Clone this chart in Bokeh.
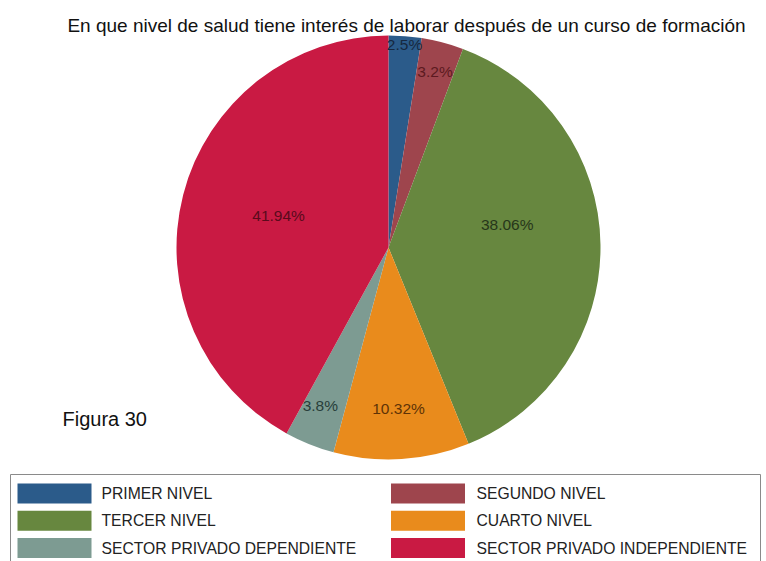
import numpy as np
from bokeh.plotting import figure
from bokeh.models import ColumnDataSource, Range1d
from bokeh.core.properties import value
from bokeh.embed import file_html
from bokeh.resources import INLINE

# ---- data ----
categories = ["PRIMER NIVEL", "SEGUNDO NIVEL", "TERCER NIVEL", "CUARTO NIVEL",
              "SECTOR PRIVADO DEPENDIENTE", "SECTOR PRIVADO INDEPENDIENTE"]
percent = [2.5, 3.2, 38.06, 10.32, 3.8, 41.94]
pct_labels = ["2.5%", "3.2%", "38.06%", "10.32%", "3.8%", "41.94%"]
title_text = "En que nivel de salud tiene interés de laborar después de un curso de formación"
note_text = "Figura 30"

# ---- styles ----
colors = ["#2b5b8a", "#9e454d", "#67873f", "#e98b1c", "#7d9b92", "#c91a43"]
label_colors = ["#16283f", "#5c1a20", "#26361a", "#5e3306", "#283e3a", "#5a0a1c"]
label_rfrac = [0.96, 0.86, 0.57, 0.76, 0.81, 0.54]
label_shift_deg = [0, 0, -10, 0, 1.5, 1.8]
FONT = value("Liberation Sans")

W, H = 766, 561
cx, cy, R = 388, 314, 212

p = figure(width=W, height=H, output_backend="svg", toolbar_location=None,
           x_range=Range1d(0, W), y_range=Range1d(0, H),
           min_border=0, min_border_left=0, min_border_right=0,
           min_border_top=0, min_border_bottom=0)
p.axis.visible = False
p.grid.visible = False
p.outline_line_color = None
p.background_fill_color = "white"

vals = np.array(percent, dtype=float)
frac = vals / vals.sum()
cum = np.concatenate([[0.0], np.cumsum(frac)])
start = np.pi / 2 - 2 * np.pi * cum[:-1]
end = np.pi / 2 - 2 * np.pi * cum[1:]

src = ColumnDataSource(dict(x=[cx] * 6, y=[cy] * 6, start=start, end=end,
                            color=colors, cat=categories))
p.wedge(x="x", y="y", radius=R, start_angle="start", end_angle="end",
        direction="clock", fill_color="color", line_color=None, source=src)

# percentage labels
mid_theta = 2 * np.pi * (cum[:-1] + cum[1:]) / 2 + np.radians(label_shift_deg)  # clockwise from top
lr = np.array(label_rfrac) * R
lx = cx + lr * np.sin(mid_theta)
ly = cy + lr * np.cos(mid_theta)
p.text(x=lx, y=ly, text=pct_labels, text_color=label_colors, text_font=FONT,
       text_font_size="15.5px", text_align="center", text_baseline="middle")

# title
p.text(x=[406], y=[536.5], text=[title_text], text_font=FONT, text_font_size="19px",
       text_color="#111111", text_align="center", text_baseline="middle")
# note
p.text(x=[62], y=[143], text=[note_text], text_font=FONT, text_font_size="20px",
       text_color="#111111", text_align="left", text_baseline="middle")

# legend (drawn in plot space, 2 columns, row-major)
p.quad(left=[10], right=[760], top=[87], bottom=[-3], fill_color=None,
       line_color="#8a8a8a", line_width=1)
idx = np.arange(len(categories))
col = idx % 2
row = idx // 2
sw_x = np.where(col == 0, 54, 427.5)
tx = np.where(col == 0, 101, 476)
ry = 68 - row * 27.25
p.rect(x=sw_x, y=ry, width=74, height=20, fill_color=colors, line_color=None)
p.text(x=tx, y=ry, text=categories, text_font=FONT, text_font_size="15.7px",
       text_color="#222222", text_align="left", text_baseline="middle")

open("out.html", "w").write(file_html(p, INLINE))
